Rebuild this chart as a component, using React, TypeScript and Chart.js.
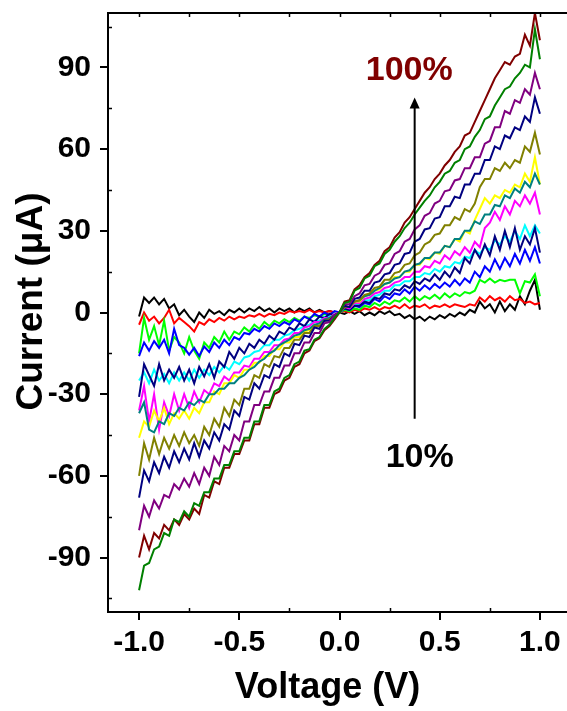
import React, { useEffect, useRef } from "react";
import { Chart, registerables } from "chart.js";

Chart.register(...registerables);

// Voltage sweep (V)
const VOLTAGE = [
  -1, -0.975, -0.95, -0.925, -0.9, -0.875, -0.85, -0.825, -0.8, -0.775,
  -0.75, -0.725, -0.7, -0.675, -0.65, -0.625, -0.6, -0.575, -0.55, -0.525,
  -0.5, -0.475, -0.45, -0.425, -0.4, -0.375, -0.35, -0.325, -0.3, -0.275,
  -0.25, -0.225, -0.2, -0.175, -0.15, -0.125, -0.1, -0.075, -0.05, -0.025,
  0, 0.025, 0.05, 0.075, 0.1, 0.125, 0.15, 0.175, 0.2, 0.225,
  0.25, 0.275, 0.3, 0.325, 0.35, 0.375, 0.4, 0.425, 0.45, 0.475,
  0.5, 0.525, 0.55, 0.575, 0.6, 0.625, 0.65, 0.675, 0.7, 0.725,
  0.75, 0.775, 0.8, 0.825, 0.85, 0.875, 0.9, 0.925, 0.95, 0.975,
  1,
];

// Current (µA) per curve
const S_BLACK = [
  -1.5, 5.5, 3.5, 5.5, 3, 5, 1.5, 3, -1, 1,
  -1.5, -3.5, 0, -2, 1, -0.5, 0.5, -1, 1, 0,
  1.5, 0, 1.5, 0.5, 2, 0.5, 1.5, 0, 1.5, 0.5,
  1.5, 0, 1.5, 0.5, 1.5, 0, 1, 0, 0.5, 0,
  0, -0.5, 0.5, -0.5, 0.5, -1, 0, -1, 0.5, -0.5,
  0.5, -1, -0.5, -2, -1, -2.5, -1.5, -3, -1.5, -2.5,
  -1, -2, -0.5, -1.5, 0, -1, 1, 0, 4, 1.5,
  3, 0, 4, 0.5, 3, 1, 6, 3, 8, 12,
  1,
];
const S_RED = [
  -4.5, 0, -3, -1.5, -4, -2, 1, -4, -2, -3.5,
  -5, -7, -3.5, -4.5, -2.5, -3.5, -2, -3, -1.5, -2.5,
  -1.5, -2, -1, -1.5, -0.5, -1.5, -0.5, -1, 0, -0.5,
  0.5, 0, 0.5, 0, 1, 0, 0.5, 0, 0.5, 0,
  0, 0.5, 0, 1, 0.5, 1.5, 1, 2, 1, 2,
  1.5, 2.5, 1.5, 3, 1.5, 2.5, 2, 3, 1.5, 2.5,
  2, 3, 2, 3, 2.5, 2, 3, 2.5, 5.5, 4,
  6, 4.5, 5.5, 4, 6, 4.5, 5, 3.5, 4, 3,
  3.5,
];
const S_LIME = [
  -15, -2, -10, -5, -12, -3, -14, -9, -11, -15,
  -9, -14, -17, -11, -13, -9, -11, -7, -10, -7,
  -8, -5.5, -7, -4.5, -6, -3.5, -5, -3, -4, -2.5,
  -3.5, -2, -3, -1.5, -2, -1, -1.5, -0.5, -1, 0,
  0, 1, 0.5, 1.5, 1, 2.5, 2, 3.5, 2.5, 4,
  3, 4.5, 4, 5.5, 4, 6, 4.5, 6, 5, 6.5,
  5, 7, 5.5, 7, 6, 7.5, 7, 8, 12, 11,
  12.5, 11, 12, 11.5, 12, 12, 7, 11.5, 11, 14,
  6,
];
const S_BLUE = [
  -16, -11, -14, -10.5, -13, -10, -15, -6, -12, -13,
  -15.5, -13, -16, -12.5, -14.5, -11, -13, -10, -12, -9,
  -10, -7.5, -8, -6, -7, -5, -6, -4, -5, -3.5,
  -4.5, -2.5, -3.5, -1.5, -2.5, -0.5, -1.5, 0, -1, 0.5,
  0, 1.5, 1, 2.5, 2, 3.5, 3, 5, 4, 6,
  5, 7, 6.5, 8.5, 7, 9.5, 8, 10, 8.5, 10.5,
  9, 11, 9.5, 12, 10, 12.5, 11, 15, 13, 17,
  15, 19.5, 16, 20, 17, 21.5, 18, 23, 19, 24,
  18,
];
const S_NAVY_A = [
  -31, -19, -23, -27, -19, -25, -21, -24, -20, -25,
  -21, -26, -20, -23.5, -19, -24, -18, -20, -14.5, -17,
  -13, -15, -11.5, -13, -10, -11.5, -8.5, -10, -7, -8,
  -5.5, -6.5, -4, -5, -2.5, -3.5, -1.5, -2, -0.5, -1,
  0, 1.5, 1, 2.5, 2.5, 4, 3.5, 5.5, 5, 7,
  6.5, 8.5, 8, 10, 9, 11.5, 10.5, 12.5, 11.5, 14,
  12, 15, 13, 16.5, 14.5, 20, 18, 23, 20, 25,
  21, 28, 23, 30, 24, 31, 23, 28, 25, 31,
  22,
];
const S_CYAN = [
  -25, -22, -26, -21, -25, -22.5, -26, -22, -25, -22,
  -25, -21, -24, -21, -23, -20, -22, -19.5, -21, -18,
  -19, -16.5, -16, -14.5, -14, -12, -12, -10, -10, -8.5,
  -8, -6.5, -6, -5, -4.5, -3, -3, -1.5, -1.5, -0.5,
  0, 1.5, 1.5, 3, 3, 4.5, 4.5, 6, 6.5, 8,
  8, 10, 10, 11.5, 11.5, 13, 13, 14.5, 14, 16,
  15, 17, 16.5, 18.5, 18, 20.5, 20, 23, 21.5, 24,
  23, 26.5, 25, 28, 26, 30, 27, 32, 28, 32,
  29,
];
const S_MAGENTA = [
  -36, -27, -40, -30, -43, -33, -38, -30, -36, -30,
  -35, -29, -33, -28.5, -30, -26, -27, -23.5, -25, -22,
  -22, -19.5, -20, -17, -17, -14.5, -14.5, -12, -12, -10,
  -9.5, -7.5, -7.5, -5.5, -5, -3.5, -3.5, -2, -2, -0.5,
  0, 2, 1.5, 3.5, 3.5, 5, 5.5, 7, 7.5, 9,
  9.5, 11, 11.5, 13, 13, 15, 15, 17, 16.5, 19,
  18, 21, 19.5, 22.5, 21, 24, 22, 26, 24, 31,
  33, 37, 34, 39, 36, 41, 39, 43, 40, 44,
  36,
];
const S_TEAL = [
  -37, -33, -43, -44, -40, -41, -37, -38, -35, -36,
  -33, -34, -32, -33, -30, -30, -28, -28, -26, -26,
  -24, -23, -21, -20, -18, -17, -15, -14, -12, -11,
  -10, -8.5, -8, -6.5, -6, -4.5, -4, -2.5, -2, -1,
  0, 2, 2, 4, 4.5, 6, 6.5, 8, 9, 10.5,
  11, 12.5, 13, 15, 15.5, 17.5, 18, 20, 20, 22,
  22, 24.5, 24, 27, 27, 30, 30, 33.5, 32.5, 36,
  36, 39.5, 39, 43, 42, 45.5, 44, 48, 46, 51,
  47,
];
const S_YELLOW = [
  -46, -40, -42, -36, -40, -35, -41, -37, -39, -36,
  -39, -35, -37, -33, -33, -29, -30, -26, -26, -23,
  -24, -21, -21, -18.5, -18.5, -16, -16, -13.5, -13.5, -11,
  -11, -9, -9, -7, -6.5, -5, -4.5, -3, -2.5, -1,
  0, 2, 2, 4, 4, 6, 6.5, 8, 8.5, 10.5,
  11, 13, 13, 15, 15, 17.5, 17.5, 20, 19.5, 22,
  21.5, 24.5, 24, 27, 26, 30, 29, 34, 38, 42,
  40, 43, 42, 45, 44, 47, 46, 51, 48, 57,
  47,
];
const S_OLIVE = [
  -60, -48, -54, -46, -52, -46, -50, -45, -49, -44,
  -48, -45, -49, -42, -45, -39, -42, -35, -38, -32,
  -34, -28, -28, -23, -24, -19, -20, -16, -16.5, -13,
  -13, -10, -10, -7.5, -7.5, -5, -5, -3, -2.5, -1,
  0, 2, 2, 4, 4.5, 6.5, 7, 9, 9.5, 12,
  12, 14.5, 15, 17.5, 18, 21, 22, 25, 26, 28.5,
  29, 32, 32, 35, 34, 38, 37, 40, 46, 49,
  49, 53, 52, 55, 53, 56, 55, 61, 59, 66,
  58,
];
const S_NAVY_B = [
  -68, -58, -62, -55, -59, -53, -57, -51, -55, -50,
  -54, -48, -53, -47, -50, -44, -47, -41, -43, -36,
  -38, -31, -32, -26, -28, -23, -24, -19, -20, -15,
  -16, -11.5, -12, -8.5, -9, -5.5, -6, -3, -3, -1,
  0, 2.5, 2, 5, 5.5, 8, 8, 11, 11.5, 14,
  14.5, 17.5, 18, 21.5, 22, 26, 27, 30.5, 31, 34.5,
  35, 39, 39, 42.5, 42, 47, 47, 51, 51, 56,
  56, 61, 60, 65, 64, 68, 67, 72, 70, 79,
  73,
];
const S_PURPLE = [
  -80, -71, -75, -69, -72, -67, -68, -63, -65, -61,
  -64, -59, -63, -57, -60, -53, -56, -49, -51, -45,
  -47, -40, -40, -34, -34, -29, -29, -24, -24, -19.5,
  -19.5, -15, -15, -11, -11, -7.5, -7.5, -4, -3.5, -1,
  0, 3, 3, 6, 7, 10, 10.5, 13.5, 14.5, 17.5,
  18, 21.5, 22.5, 26, 27, 30.5, 32, 35.5, 36.5, 40,
  41, 44.5, 45, 48.5, 49, 53, 53, 57, 57, 62,
  63, 68, 68, 74, 73, 78, 77, 82, 80, 88,
  82,
];
const S_WINE = [
  -90, -82, -87, -81, -83, -78, -80, -76, -78, -74,
  -76, -72, -74, -67, -68, -62, -63, -57, -57, -52,
  -52, -47, -47, -41, -41, -35, -35, -30, -29, -25,
  -24, -20, -19, -15, -14, -10.5, -9.5, -6.5, -5, -2.5,
  0, 4, 4.5, 8.5, 10, 13, 14.5, 17.5, 19, 22.5,
  24, 27.5, 29.5, 33, 35, 38, 41, 44, 46, 49,
  51, 54, 56, 59, 61, 65, 66, 70, 74, 78,
  82, 86, 89, 92, 91, 94, 95, 102, 98, 110,
  100,
];
const S_GREEN = [
  -102, -93, -92, -87, -86, -81, -82, -76, -77, -73,
  -75, -70, -71, -66, -66, -61, -61, -56, -56, -51,
  -51, -46, -46, -40, -40, -34, -34, -29, -28, -24,
  -23, -19, -18, -14, -13.5, -10, -9, -6, -4.5, -2,
  0, 3.5, 4, 8, 9, 12.5, 13.5, 17, 18, 21.5,
  23, 26, 28, 31, 33, 36, 38.5, 41, 43, 46,
  48, 51, 52, 55, 56, 60, 61, 64.5, 67, 71,
  72, 76, 79, 82, 83, 86, 88, 91, 90, 104,
  93,
];

// Bottom-most first
const SERIES = [
  { values: S_BLACK, color: "#000000" },
  { values: S_RED, color: "#FF0000" },
  { values: S_LIME, color: "#00FF00" },
  { values: S_BLUE, color: "#0000FF" },
  { values: S_CYAN, color: "#00FFFF" },
  { values: S_NAVY_A, color: "#000080" },
  { values: S_MAGENTA, color: "#FF00FF" },
  { values: S_YELLOW, color: "#FFFF00" },
  { values: S_TEAL, color: "#008080" },
  { values: S_OLIVE, color: "#808000" },
  { values: S_NAVY_B, color: "#000080" },
  { values: S_PURPLE, color: "#800080" },
  { values: S_WINE, color: "#800000" },
  { values: S_GREEN, color: "#008000" },
];

const X_TICKS = [-1, -0.5, 0, 0.5, 1];
const X_MINOR = [-0.75, -0.25, 0.25, 0.75];
const X_TOP = [-1, -0.75, -0.5, -0.25, 0, 0.25, 0.5, 0.75, 1];
const Y_TICKS = [-90, -60, -30, 0, 30, 60, 90];
const Y_MINOR = [-105, -75, -45, -15, 15, 45, 75, 105];

const FONT = "Arial, 'Liberation Sans', Helvetica, sans-serif";

const framePlugin = {
  id: "frameAndNotes",
  afterDraw(chart: any) {
    const { ctx, chartArea: a } = chart;
    const xs = chart.scales.x;
    const ys = chart.scales.y;
    ctx.save();
    ctx.strokeStyle = "#000";
    ctx.lineWidth = 2;
    ctx.strokeRect(a.left, a.top, a.right - a.left, a.bottom - a.top);

    ctx.lineWidth = 1.5;
    ctx.beginPath();
    for (const v of X_MINOR) {
      const px = Math.round(xs.getPixelForValue(v)) + 0.5;
      ctx.moveTo(px, a.bottom);
      ctx.lineTo(px, a.bottom - 4);
    }
    for (const v of X_TOP) {
      const px = Math.round(xs.getPixelForValue(v)) + 0.5;
      ctx.moveTo(px, a.top);
      ctx.lineTo(px, a.top + 4);
    }
    for (const v of Y_MINOR) {
      const py = Math.round(ys.getPixelForValue(v)) + 0.5;
      ctx.moveTo(a.left, py);
      ctx.lineTo(a.left + 4, py);
    }
    ctx.stroke();

    // arrow
    const ax = xs.getPixelForValue(0.375);
    const yBot = ys.getPixelForValue(-39);
    const yTip = ys.getPixelForValue(79);
    ctx.lineWidth = 2;
    ctx.beginPath();
    ctx.moveTo(ax, yBot);
    ctx.lineTo(ax, yTip + 8);
    ctx.stroke();
    ctx.fillStyle = "#000";
    ctx.beginPath();
    ctx.moveTo(ax, yTip);
    ctx.lineTo(ax - 5, yTip + 11);
    ctx.lineTo(ax + 5, yTip + 11);
    ctx.closePath();
    ctx.fill();

    // annotations
    ctx.font = `bold 34px ${FONT}`;
    ctx.textAlign = "center";
    ctx.textBaseline = "middle";
    ctx.fillStyle = "#800000";
    ctx.fillText("100%", xs.getPixelForValue(0.348), ys.getPixelForValue(89));
    ctx.fillStyle = "#000";
    ctx.fillText("10%", xs.getPixelForValue(0.4), ys.getPixelForValue(-53.4));

    // axis titles
    ctx.font = `bold 36px ${FONT}`;
    ctx.textBaseline = "alphabetic";
    ctx.fillText("Voltage (V)", 327.5, 698);
    ctx.save();
    ctx.translate(42, 301.5);
    ctx.rotate(-Math.PI / 2);
    ctx.font = `bold 37px ${FONT}`;
    ctx.fillText("Current (\u03BCA)", 0, 0);
    ctx.restore();
    ctx.restore();
  },
};

export default function App() {
  const ref = useRef<HTMLCanvasElement | null>(null);

  useEffect(() => {
    if (!ref.current) return;
    const datasets = SERIES.slice()
      .reverse()
      .map((s) => ({
        data: VOLTAGE.map((v, i) => ({ x: v, y: s.values[i] })),
        borderColor: s.color,
        backgroundColor: s.color,
        borderWidth: 2,
        pointRadius: 0,
        tension: 0,
        fill: false,
      }));
    const tickFont = { family: FONT, size: 30, weight: "bold" as const };
    const chart = new Chart(ref.current, {
      type: "line",
      data: { datasets },
      options: {
        responsive: false,
        animation: false,
        devicePixelRatio: 1,
        layout: { padding: { left: 0, top: 13, right: 9, bottom: 0 } },
        plugins: { legend: { display: false }, tooltip: { enabled: false } },
        scales: {
          x: {
            type: "linear",
            min: -1.155,
            max: 1.155,
            afterBuildTicks: (s: any) => {
              s.ticks = X_TICKS.map((v) => ({ value: v }));
            },
            afterFit: (s: any) => {
              s.height = 99;
              s.paddingLeft = 0;
              s.paddingRight = 0;
            },
            ticks: {
              font: tickFont,
              color: "#000",
              padding: 5,
              maxRotation: 0,
              autoSkip: false,
              callback: (v: any) => Number(v).toFixed(1),
            },
            grid: {
              drawOnChartArea: false,
              drawTicks: true,
              tickLength: 8,
              color: "#000",
              lineWidth: 2,
            },
            border: { display: false },
          },
          y: {
            type: "linear",
            min: -110,
            max: 110,
            afterBuildTicks: (s: any) => {
              s.ticks = Y_TICKS.map((v) => ({ value: v }));
            },
            afterFit: (s: any) => {
              s.width = 108;
              s.paddingTop = 0;
              s.paddingBottom = 0;
            },
            ticks: {
              font: tickFont,
              color: "#000",
              padding: 9,
              autoSkip: false,
              callback: (v: any) => String(Math.round(Number(v))),
            },
            grid: {
              drawOnChartArea: false,
              drawTicks: true,
              tickLength: 8,
              color: "#000",
              lineWidth: 2,
            },
            border: { display: false },
          },
        },
      },
      plugins: [framePlugin],
    });
    return () => chart.destroy();
  }, []);

  return (
    <div
      style={{
        position: "fixed",
        left: 0,
        top: 0,
        width: 567,
        height: 711,
        overflow: "hidden",
        background: "#fff",
      }}
    >
      <canvas ref={ref} width={580} height={711} style={{ display: "block" }} />
    </div>
  );
}
